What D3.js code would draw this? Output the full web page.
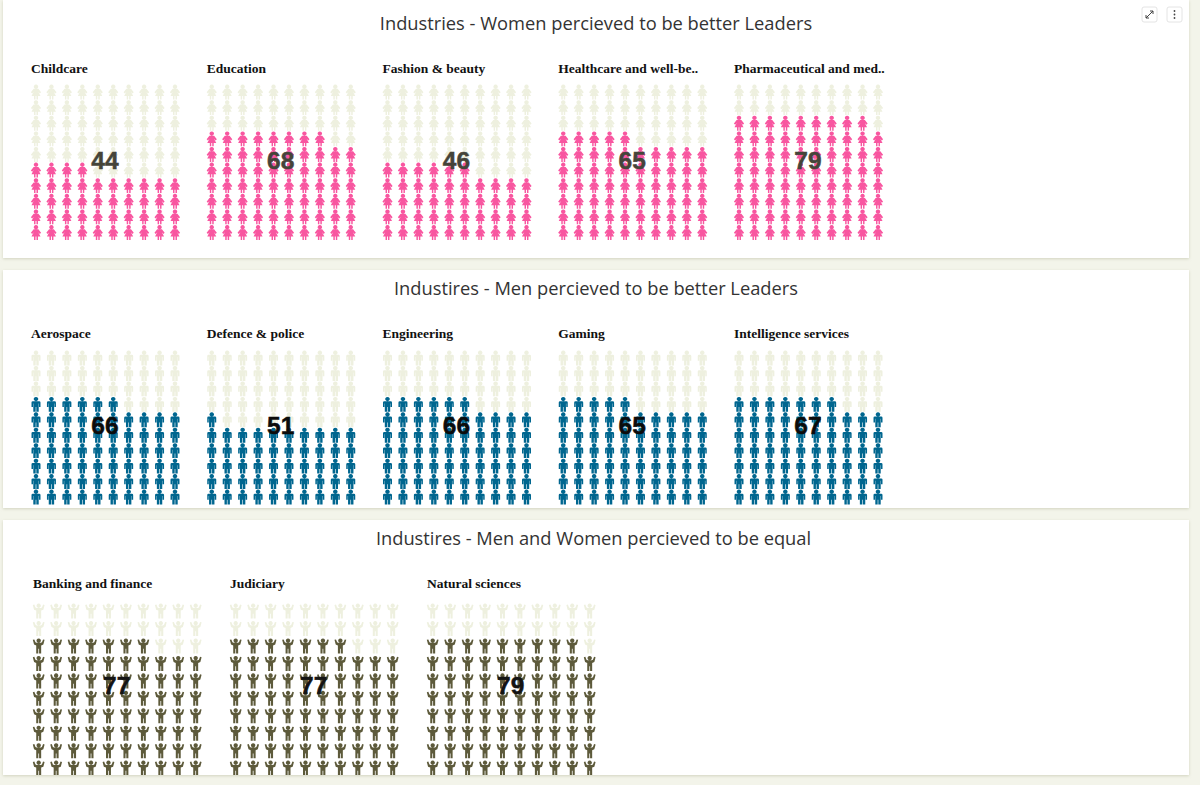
<!DOCTYPE html>
<html>
<head>
<meta charset="utf-8">
<script src="https://cdnjs.cloudflare.com/ajax/libs/d3/7.8.5/d3.min.js"></script>
<style>
html,body{margin:0;padding:0;background:#f3f4ea;overflow:hidden}
svg{display:block}
</style>
</head>
<body>
<svg id="chart" width="1200" height="785"></svg>
<script>
const womenCategories = ["Childcare","Education","Fashion & beauty","Healthcare and well-be..","Pharmaceutical and med.."];
const womenValues = [44,68,46,65,79];
const menCategories = ["Aerospace","Defence & police","Engineering","Gaming","Intelligence services"];
const menValues = [66,51,66,65,67];
const equalCategories = ["Banking and finance","Judiciary","Natural sciences"];
const equalValues = [77,77,79];
const panelTitles = ["Industries - Women percieved to be better Leaders","Industires - Men percieved to be better Leaders","Industires - Men and Women percieved to be equal"];

const womanIcon = "M0,-8a2.3,2.3 0 1,1 -0.01,0Z M-2.4,-3.4H2.4L5.2,0.4 3.9,1.7 2.3,-0.2 4.6,4.4H2V8H0.5V4.4H-0.5V8H-2V4.4H-4.6L-2.3,-0.2 -3.9,1.7 -5.2,0.4Z";
const manIcon = "M0,-8a2.3,2.3 0 1,1 -0.01,0Z M-3.2,-3.4H3.2Q4.5,-3.4 4.5,-2.1V3H3V-1H2.7V8H0.3V3H-0.3V8H-2.7V-1H-3V3H-4.5V-2.1Q-4.5,-3.4 -3.2,-3.4Z";
const cheerIcon = "M0,-7.8a2.3,2.3 0 1,1 -0.01,0Z M-6.2,-6.4L-4.6,-6.8 -3.4,-3.8 -2.2,-3.2H2.2L3.4,-3.8 4.6,-6.8 6.2,-6.4 4.9,-1.4 2.6,-0.4V8H0.4V3H-0.4V8H-2.6V-0.4L-4.9,-1.4Z";

const emptyColor = "#eef0df";
const svg = d3.select("#chart");

const panels = [
  {y0:0,y1:258,titleX:596,titleY:30,labelY:72.5,cats:womenCategories,vals:womenValues,icon:womanIcon,iconScale:"scale(0.98,0.93)",color:"#f857a0",numColor:"#45443a",
   xs:[31,909.75],firstX:5,gridW:139,rowTop:92,rowBot:232.5,numY:168.5},
  {y0:270,y1:508,titleX:596,titleY:295,labelY:337.5,cats:menCategories,vals:menValues,icon:manIcon,iconScale:"scale(1,0.93)",color:"#04668f",numColor:"#0c0c0c",
   xs:[31,909.75],firstX:5,gridW:139,rowTop:358,rowBot:497,numY:433.5},
  {y0:520,y1:775,titleX:593.5,titleY:545,labelY:588,cats:equalCategories,vals:equalValues,icon:cheerIcon,iconScale:"scale(0.95,0.95)",color:"#5d5a3a",numColor:"#141414",
   xs:[33,624],firstX:5.7,gridW:157,rowTop:611,rowBot:768,numY:693.5}
];

const defs = svg.append("defs");
defs.append("filter").attr("id","soft").attr("x","-5%").attr("y","-5%").attr("width","110%").attr("height","110%")
  .append("feGaussianBlur").attr("stdDeviation",0.35);
panels.forEach((p,i)=>{
  defs.append("clipPath").attr("id","clip"+i).append("rect")
    .attr("x",3).attr("y",p.y0).attr("width",1186).attr("height",p.y1-p.y0);
  defs.append("filter").attr("id","shadow"+i).attr("x","-2%").attr("y","-5%").attr("width","104%").attr("height","112%")
    .append("feDropShadow").attr("dx",0).attr("dy",1).attr("stdDeviation",1.5).attr("flood-color","#c9cbb4").attr("flood-opacity",0.8);
});

panels.forEach((p,pi)=>{
  svg.append("rect").attr("x",3).attr("y",p.y0).attr("width",1186).attr("height",p.y1-p.y0)
    .attr("fill","#fff").attr("filter",`url(#shadow${pi})`);
  const g = svg.append("g").attr("clip-path",`url(#clip${pi})`);

  g.append("text").attr("x",p.titleX).attr("y",p.titleY).attr("text-anchor","middle")
    .attr("font-family","'Open Sans',sans-serif").attr("font-size",18.3).attr("fill","#333")
    .text(panelTitles[pi]);

  const small = d3.scaleBand().domain(p.cats).range(p.xs).paddingInner(0).paddingOuter(0);
  const cols = d3.scalePoint().domain(d3.range(10)).range([0,p.gridW]);
  const rows = d3.scalePoint().domain(d3.range(10)).range([p.rowBot,p.rowTop]);

  p.cats.forEach((cat,ci)=>{
    const left = small(cat);
    const m = g.append("g").attr("transform",`translate(${left},0)`);
    m.append("text").attr("x",0).attr("y",p.labelY)
      .attr("font-family","'Liberation Serif',serif").attr("font-weight","bold").attr("font-size",13.5).attr("fill","#111")
      .text(cat);
    const icons = m.append("g").attr("filter","url(#soft)");
    icons.selectAll("path.icon").data(d3.range(100)).join("path").attr("class","icon")
      .attr("d",p.icon)
      .attr("fill",d=>d < p.vals[ci] ? p.color : emptyColor)
      .attr("transform",d=>`translate(${p.firstX+cols(d%10)},${rows(Math.floor(d/10))}) ${p.iconScale}`);
    m.append("text").attr("x",p.firstX+p.gridW/2-0.5).attr("y",p.numY).attr("text-anchor","middle")
      .attr("font-family","'Liberation Sans',Arial,sans-serif").attr("font-weight","bold").attr("font-size",24.5)
      .attr("fill",p.numColor).attr("stroke",p.numColor).attr("stroke-width",0.5)
      .text(p.vals[ci]);
  });
});

/* toolbar buttons */
const tools = svg.append("g");
[[1142,"expand"],[1167,"menu"]].forEach(([x,k])=>{
  const b = tools.append("g").attr("transform",`translate(${x},7)`);
  b.append("rect").attr("width",15).attr("height",15).attr("rx",2).attr("fill","#fff").attr("stroke","#e4e4e4");
  if(k==="expand"){
    b.append("path").attr("d","M4,11L11,4M8,4H11V7M4,8V11H7").attr("fill","none").attr("stroke","#444").attr("stroke-width",1);
  } else {
    b.selectAll("circle").data([4,7.5,11]).join("circle").attr("cx",7.5).attr("cy",d=>d).attr("r",0.9).attr("fill","#444");
  }
});
</script>
</body>
</html>
